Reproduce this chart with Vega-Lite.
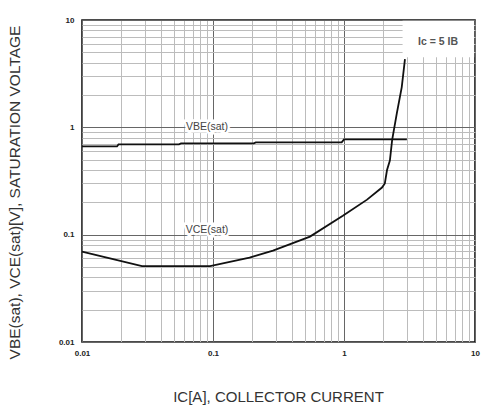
{
  "$schema": "https://vega.github.io/schema/vega-lite/v6.json",
  "width": 393,
  "height": 322,
  "autosize": {"type": "none"},
  "padding": {"left": 82, "top": 20, "right": 6, "bottom": 63},
  "background": "white",
  "config": {
    "view": {"stroke": "#111", "strokeWidth": 1.6},
    "font": "Liberation Sans"
  },
  "datasets": {
    "curves": [
      {"s": "VBE", "ic": 0.01, "v": 0.664},
      {"s": "VBE", "ic": 0.0185, "v": 0.664},
      {"s": "VBE", "ic": 0.019, "v": 0.694},
      {"s": "VBE", "ic": 0.055, "v": 0.694},
      {"s": "VBE", "ic": 0.057, "v": 0.709},
      {"s": "VBE", "ic": 0.205, "v": 0.709},
      {"s": "VBE", "ic": 0.212, "v": 0.724},
      {"s": "VBE", "ic": 0.96, "v": 0.724},
      {"s": "VBE", "ic": 1.0, "v": 0.772},
      {"s": "VBE", "ic": 3.02, "v": 0.772},
      {"s": "VCE", "ic": 0.01, "v": 0.0694},
      {"s": "VCE", "ic": 0.0287, "v": 0.051},
      {"s": "VCE", "ic": 0.095, "v": 0.051},
      {"s": "VCE", "ic": 0.19, "v": 0.061},
      {"s": "VCE", "ic": 0.287, "v": 0.0709},
      {"s": "VCE", "ic": 0.55, "v": 0.096},
      {"s": "VCE", "ic": 0.98, "v": 0.15},
      {"s": "VCE", "ic": 1.5, "v": 0.212},
      {"s": "VCE", "ic": 1.95, "v": 0.275},
      {"s": "VCE", "ic": 2.05, "v": 0.3},
      {"s": "VCE", "ic": 2.13, "v": 0.4},
      {"s": "VCE", "ic": 2.24, "v": 0.49},
      {"s": "VCE", "ic": 2.33, "v": 0.76},
      {"s": "VCE", "ic": 2.53, "v": 1.35},
      {"s": "VCE", "ic": 2.76, "v": 2.37},
      {"s": "VCE", "ic": 2.92, "v": 4.32}
    ],
    "labels": [
      {"ic": 0.09, "v": 1.0, "t": "VBE(sat)"},
      {"ic": 0.09, "v": 0.1114, "t": "VCE(sat)"}
    ],
    "box": [
      {"x1": 2.8, "x2": 9.85, "y1": 4.5, "y2": 9.85, "t": "Ic  =  5  IB", "tx": 5.22, "ty": 6.23}
    ]
  },
  "layer": [
    {
      "data": {"name": "box"},
      "mark": {"type": "rect", "fill": "white", "stroke": null},
      "encoding": {
        "x": {
          "field": "x1", "type": "quantitative",
          "scale": {"type": "log", "domain": [0.01, 10], "nice": false},
          "axis": {
            "title": "IC[A], COLLECTOR CURRENT",
            "values": [0.01,0.02,0.03,0.04,0.05,0.06,0.07,0.08,0.09,0.1,0.2,0.3,0.4,0.5,0.6,0.7,0.8,0.9,1,2,3,4,5,6,7,8,9,10],
            "format": "~g",
            "labelExpr": "(datum.value == 0.01 || datum.value == 0.1 || datum.value == 1 || datum.value == 10) ? datum.label : ''",
            "labelOverlap": false,
            "labelFlush": false,
            "labelFont": "Liberation Sans",
            "labelFontWeight": "bold",
            "labelFontSize": 8,
            "labelColor": "#222",
            "labelPadding": 7,
            "ticks": false,
            "tickSize": 0,
            "domain": false,
            "grid": true,
            "gridColor": {"condition": {"test": "datum.value == 0.01 || datum.value == 0.1 || datum.value == 1 || datum.value == 10", "value": "#666"}, "value": "#bcbcbc"},
            "gridWidth": 1,
            "titleFont": "Liberation Sans",
            "titleFontWeight": "normal",
            "titleFontSize": 15,
            "titleColor": "#333",
            "titleX": 196,
            "titleY": 54,
            "titleBaseline": "middle",
            "titleAlign": "center"
          }
        },
        "x2": {"field": "x2"},
        "y": {
          "field": "y1", "type": "quantitative",
          "scale": {"type": "log", "domain": [0.01, 10], "nice": false},
          "axis": {
            "title": "VBE(sat), VCE(sat)[V], SATURATION VOLTAGE",
            "values": [0.01,0.02,0.03,0.04,0.05,0.06,0.07,0.08,0.09,0.1,0.2,0.3,0.4,0.5,0.6,0.7,0.8,0.9,1,2,3,4,5,6,7,8,9,10],
            "format": "~g",
            "labelExpr": "(datum.value == 0.01 || datum.value == 0.1 || datum.value == 1 || datum.value == 10) ? datum.label : ''",
            "labelOverlap": false,
            "labelFlush": false,
            "labelFont": "Liberation Sans",
            "labelFontWeight": "bold",
            "labelFontSize": 8,
            "labelColor": "#222",
            "labelPadding": 8,
            "ticks": false,
            "tickSize": 0,
            "domain": false,
            "grid": true,
            "gridColor": {"condition": {"test": "datum.value == 0.01 || datum.value == 0.1 || datum.value == 1 || datum.value == 10", "value": "#666"}, "value": "#bcbcbc"},
            "gridWidth": 1,
            "titleFont": "Liberation Sans",
            "titleFontWeight": "normal",
            "titleFontSize": 15.5,
            "titleColor": "#333",
            "titleX": -68,
            "titleY": 172,
            "titleAngle": -90,
            "titleBaseline": "middle",
            "titleAlign": "center"
          }
        },
        "y2": {"field": "y2"}
      }
    },
    {
      "data": {"name": "curves"},
      "mark": {"type": "line", "color": "#111", "strokeWidth": 1.8},
      "encoding": {
        "x": {"field": "ic", "type": "quantitative"},
        "y": {"field": "v", "type": "quantitative"},
        "detail": {"field": "s"}
      }
    },
    {
      "data": {"name": "labels"},
      "mark": {"type": "text", "font": "Liberation Sans", "fontSize": 10.5, "stroke": "white", "strokeWidth": 5, "fill": "white"},
      "encoding": {
        "x": {"field": "ic", "type": "quantitative"},
        "y": {"field": "v", "type": "quantitative"},
        "text": {"field": "t"}
      }
    },
    {
      "data": {"name": "labels"},
      "mark": {"type": "text", "font": "Liberation Sans", "fontSize": 10.5, "color": "#444"},
      "encoding": {
        "x": {"field": "ic", "type": "quantitative"},
        "y": {"field": "v", "type": "quantitative"},
        "text": {"field": "t"}
      }
    },
    {
      "data": {"name": "box"},
      "mark": {"type": "text", "font": "Liberation Sans", "fontSize": 10.5, "fontWeight": "bold", "color": "#555"},
      "encoding": {
        "x": {"field": "tx", "type": "quantitative"},
        "y": {"field": "ty", "type": "quantitative"},
        "text": {"field": "t"}
      }
    }
  ]
}
